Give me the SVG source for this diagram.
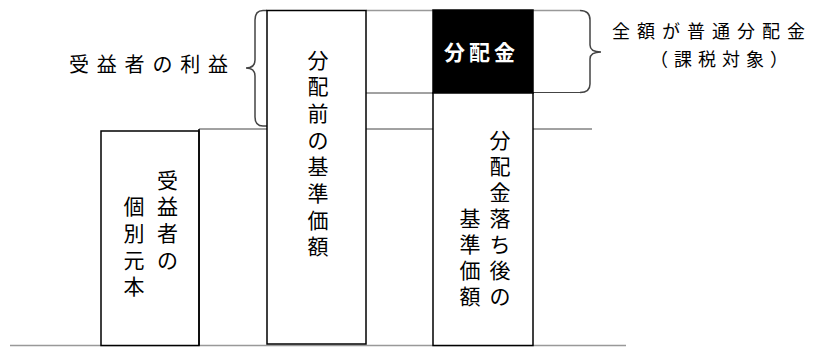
<svg xmlns="http://www.w3.org/2000/svg" width="816" height="347" viewBox="0 0 816 347">
<style>
.t{font-family:"Noto Sans CJK JP","Noto Sans CJK SC",sans-serif;fill:#000}
.v{font-size:21px;text-anchor:middle}
.box{fill:#fff;stroke:#000;stroke-width:1.5}
.ln{stroke:#444;stroke-width:1;fill:none}
.gl{stroke:#999;stroke-width:1.5;fill:none}
.br{stroke:#444;stroke-width:1.5;fill:none}
</style>
<rect width="816" height="347" fill="#fff"/>
<g id="connectors">
<line class="gl" x1="10" y1="345.5" x2="626" y2="345.5"/>
<line class="ln" x1="199" y1="129" x2="267" y2="129"/>
<line class="gl" x1="366" y1="10.5" x2="433" y2="10.5"/>
<line class="ln" x1="366" y1="93" x2="433" y2="93"/>
<line class="ln" x1="366" y1="129" x2="433" y2="129"/>
<line class="gl" x1="533" y1="10.5" x2="580" y2="10.5"/>
<line class="ln" x1="533" y1="92.5" x2="580" y2="92.5"/>
<line class="ln" x1="533" y1="129" x2="592" y2="129"/>
<path class="br" d="M267,10.5 L263,10.5 Q255,10.5 255,20 L255,60 Q255,68 246,68 Q255,68 255,76 L255,117 Q255,126 263,126 L267,126"/>
<path class="br" d="M580,10.5 Q590,10.5 590,20 L590,45 Q590,52 601,52 Q590,52 590,59 L590,84 Q590,92.5 580,92.5"/>
</g>
<g id="node-kobetsu">
<rect class="box" x="101" y="131" width="98" height="214.5"/>
<line class="box" x1="199" y1="129" x2="199" y2="345.5"/>
<text class="t v" x="167.5 167.5 167.5 167.5" y="187.5 214.2 240.9 267.6">受益者の</text>
<text class="t v" x="134 134 134 134" y="214.2 240.9 267.6 294.3">個別元本</text>
</g>
<g id="node-maekijun">
<rect class="box" x="267" y="10.5" width="99" height="333.5"/>
<text class="t v" x="318 318 318 318 318 318 318 318" y="67.5 94.2 120.9 147.6 174.3 201 227.7 254.4">分配前の基準価額</text>
</g>
<g id="node-bunpaikin">
<rect x="433" y="10" width="100" height="83" fill="#000" stroke="#000" stroke-width="1.5"/>
<text class="t" x="444" y="60" font-size="21" font-weight="bold" letter-spacing="4" fill="#fff" style="fill:#fff">分配金</text>
</g>
<g id="node-atokijun">
<rect class="box" x="433" y="93" width="100" height="252.5"/>
<text class="t v" x="500 500 500 500 500 500 500" y="147.5 173.5 199.5 225.5 251.5 277.5 303.5">分配金落ち後の</text>
<text class="t v" x="470 470 470 470" y="225.5 251.5 277.5 303.5">基準価額</text>
</g>
<g id="label-rieki">
<text class="t" x="69" y="72" font-size="20" letter-spacing="7.8">受益者の利益</text>
</g>
<g id="label-futsu">
<text class="t" x="612" y="38" font-size="18" letter-spacing="7">全額が普通分配金</text>
<text class="t" x="650" y="66" font-size="18" letter-spacing="6">（課税対象）</text>
</g>
</svg>
